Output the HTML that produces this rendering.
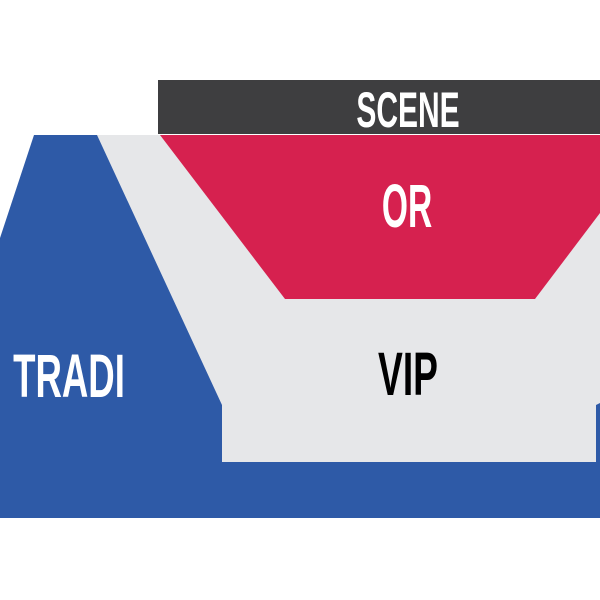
<!DOCTYPE html>
<html><head><style>
body{margin:0;background:#fff}
svg{display:block}
text{font-family:"Liberation Sans",sans-serif;font-weight:bold}
</style></head><body>
<svg width="600" height="600" viewBox="0 0 600 600">
<rect width="600" height="600" fill="#fff"/>
<polygon points="34,135 600,135 600,518 0,518 0,238" fill="#2e5aa7"/>
<polygon points="97,135 600,135 600,403 596,405 596,462 222,462 222,405" fill="#e6e7e9"/>
<polygon points="160,135 600,135 600,213 535,299 285,299" fill="#d6214f"/>
<rect x="158" y="80" width="442" height="54" fill="#3e3e40"/>
<g transform="translate(408,127) scale(0.6,1)"><text x="0" y="0" font-size="50" fill="#fff" text-anchor="middle">SCENE</text></g>
<g transform="translate(407,227) scale(0.55,1)"><text x="0" y="0" font-size="61" fill="#fff" text-anchor="middle">OR</text></g>
<g transform="translate(408,395) scale(0.61,1)"><text x="0" y="0" font-size="61" fill="#000" text-anchor="middle">VIP</text></g>
<g transform="translate(69,397) scale(0.6,1)"><text x="0" y="0" font-size="61" fill="#fff" text-anchor="middle">TRADI</text></g>
</svg>
</body></html>
